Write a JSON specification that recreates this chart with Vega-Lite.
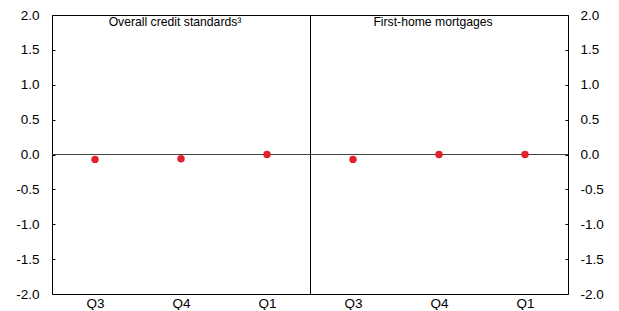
{
  "$schema": "https://vega.github.io/schema/vega-lite/v6.json",
  "autosize": {"type": "pad"},
  "padding": {"left": 15, "top": 7, "right": 0, "bottom": 0},
  "background": "white",
  "spacing": 0,
  "bounds": "flush",
  "config": {
    "font": "Liberation Sans",
    "view": {"stroke": "#000000", "strokeWidth": 1},
    "concat": {"spacing": 0},
    "axis": {"grid": false, "domain": false, "ticks": false, "labelOverlap": false, "labelFont": "Liberation Sans", "labelFontSize": 13.5, "labelColor": "#000000", "title": null}
  },
  "datasets": {
    "survey": [
      {"panel": "Overall credit standards³", "quarter": "Q3", "value": -0.07},
      {"panel": "Overall credit standards³", "quarter": "Q4", "value": -0.06},
      {"panel": "Overall credit standards³", "quarter": "Q1", "value": 0.0},
      {"panel": "First-home mortgages", "quarter": "Q3", "value": -0.07},
      {"panel": "First-home mortgages", "quarter": "Q4", "value": 0.0},
      {"panel": "First-home mortgages", "quarter": "Q1", "value": 0.0}
    ]
  },
  "hconcat": [
    {
      "width": 258,
      "height": 279,
      "data": {"name": "survey"},
      "transform": [{"filter": "datum.panel === 'Overall credit standards³'"}],
      "title": {"text": "Overall credit standards³", "offset": -20, "dx": -6, "fontSize": 12.2, "fontWeight": "normal", "font": "Liberation Sans", "color": "#000000", "anchor": "middle"},
      "encoding": {
        "y": {"field": "value", "type": "quantitative", "scale": {"domain": [-2, 2], "nice": false, "zero": false}, "axis": {"orient": "left", "values": [-2, -1.5, -1, -0.5, 0, 0.5, 1, 1.5, 2], "labelOverlap": false, "ticks": true, "tickSize": -3, "tickColor": "#000000", "labelPadding": 16, "labelExpr": "(datum.value < 0 ? '-' : '') + format(abs(datum.value), '.1f')"}}
      },
      "layer": [
        {
          "mark": {"type": "rule", "color": "#444444", "strokeWidth": 1},
          "encoding": {"y": {"datum": 0, "type": "quantitative"}}
        },
        {
          "mark": {"type": "point", "filled": true, "size": 55, "color": "#e2202e", "opacity": 1},
          "encoding": {
            "x": {"field": "quarter", "type": "ordinal", "scale": {"domain": ["Q3", "Q4", "Q1"]}, "axis": {"orient": "bottom", "labelAngle": 0, "labelPadding": 2}}
          }
        }
      ]
    },
    {
      "width": 258,
      "height": 279,
      "data": {"name": "survey"},
      "transform": [{"filter": "datum.panel === 'First-home mortgages'"}],
      "title": {"text": "First-home mortgages", "offset": -20, "dx": -6, "fontSize": 12.2, "fontWeight": "normal", "font": "Liberation Sans", "color": "#000000", "anchor": "middle"},
      "encoding": {
        "y": {"field": "value", "type": "quantitative", "scale": {"domain": [-2, 2], "nice": false, "zero": false}, "axis": {"orient": "right", "values": [-2, -1.5, -1, -0.5, 0, 0.5, 1, 1.5, 2], "labelOverlap": false, "ticks": true, "tickSize": -3, "tickColor": "#000000", "labelPadding": 15, "labelExpr": "(datum.value < 0 ? '-' : '') + format(abs(datum.value), '.1f')"}}
      },
      "layer": [
        {
          "mark": {"type": "rule", "color": "#444444", "strokeWidth": 1},
          "encoding": {"y": {"datum": 0, "type": "quantitative"}}
        },
        {
          "mark": {"type": "point", "filled": true, "size": 55, "color": "#e2202e", "opacity": 1},
          "encoding": {
            "x": {"field": "quarter", "type": "ordinal", "scale": {"domain": ["Q3", "Q4", "Q1"]}, "axis": {"orient": "bottom", "labelAngle": 0, "labelPadding": 2}}
          }
        }
      ]
    }
  ]
}
